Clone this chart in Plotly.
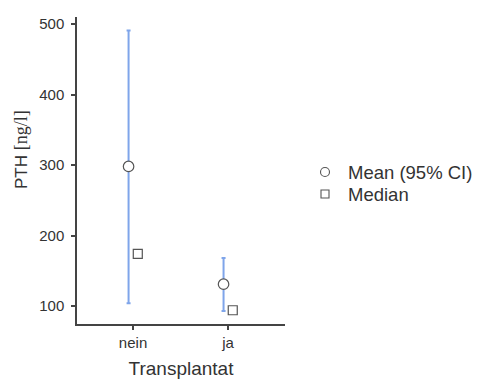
import plotly.graph_objects as go

categories = ["nein", "ja"]
mean_vals = [298, 131]
ci_lower = [104, 93]
ci_upper = [491, 168]
median_vals = [174, 94]
legend_labels = ["Mean (95% CI)", "Median"]

pos = [1, 2]
mean_x = [p - 0.047 for p in pos]
med_x = [p + 0.05 for p in pos]

blue = "#7FA5EA"
dark = "#444444"
txt = "#333333"

# plot area in pixels
L, R, T, B = 77, 195, 17, 58
W, H = 480, 382
pw, ph = W - L - R, H - T - B


def px(x):
    return (x - L) / pw


def py(y):
    return (H - B - y) / ph


fig = go.Figure()
fig.add_trace(go.Scatter(
    x=mean_x, y=mean_vals, mode="markers", showlegend=False, name=legend_labels[0],
    marker=dict(symbol="circle", size=10.5, color="white", line=dict(color="#555555", width=1.2)),
    error_y=dict(type="data", symmetric=False,
                 array=[u - m for u, m in zip(ci_upper, mean_vals)],
                 arrayminus=[m - l for m, l in zip(mean_vals, ci_lower)],
                 color=blue, thickness=2, width=2),
))
fig.add_trace(go.Scatter(
    x=med_x, y=median_vals, mode="markers", showlegend=False, name=legend_labels[1],
    marker=dict(symbol="square", size=9, color="white", line=dict(color="#555555", width=1.2)),
))

# custom legend (symbols + labels)
leg_y = [172, 194]
sym_x = 325
fig.add_shape(type="circle", xref="paper", yref="paper",
              x0=px(sym_x - 4.5), x1=px(sym_x + 4.5), y0=py(leg_y[0] + 4.5), y1=py(leg_y[0] - 4.5),
              line=dict(color="#555555", width=1.1), fillcolor="white")
fig.add_shape(type="rect", xref="paper", yref="paper",
              x0=px(sym_x - 4), x1=px(sym_x + 4), y0=py(leg_y[1] + 4), y1=py(leg_y[1] - 4),
              line=dict(color="#555555", width=1.1), fillcolor="white")
for lab, yy in zip(legend_labels, leg_y):
    fig.add_annotation(text=lab, xref="paper", yref="paper", x=px(346), y=py(yy),
                       xanchor="left", yanchor="middle", showarrow=False,
                       font=dict(size=18.5, color=txt))

# y axis title as annotation
fig.add_annotation(
    text="PTH <span style='font-family:Liberation Serif, serif;font-size:18px'>[ng/l]</span>",
    xref="paper", yref="paper", x=px(21), y=py(150), textangle=-90,
    xanchor="center", yanchor="middle", showarrow=False,
    font=dict(size=17, color=txt))

fig.update_layout(
    width=W, height=H,
    margin=dict(l=L, r=R, t=T, b=B, autoexpand=False),
    paper_bgcolor="white", plot_bgcolor="white",
    font=dict(family="Liberation Sans, Arial, sans-serif", color=txt),
    showlegend=False,
    xaxis=dict(
        range=[0.41, 2.6], tickmode="array", tickvals=pos, ticktext=categories,
        showgrid=False, zeroline=False, showline=True, linecolor=dark, linewidth=1.5,
        ticks="outside", ticklen=4, tickcolor=dark, tickwidth=1.5,
        tickfont=dict(size=15, color=txt), automargin=False,
        title=dict(text="Transplantat", font=dict(size=19, color=txt), standoff=12),
    ),
    yaxis=dict(
        range=[74.5, 510], tickvals=[100, 200, 300, 400, 500],
        showgrid=False, zeroline=False, showline=True, linecolor=dark, linewidth=1.5,
        ticks="outside", ticklen=4, tickcolor=dark, tickwidth=1.5,
        tickfont=dict(size=15, color=txt), ticklabelstandoff=4, automargin=False,
    ),
)

fig.write_html("out.html")
